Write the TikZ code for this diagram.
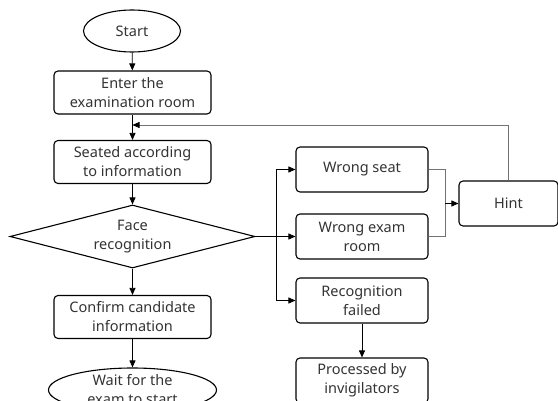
\documentclass[tikz,border=0pt]{standalone}
\usepackage{fontspec}
\setmainfont{Noto Sans}
\usetikzlibrary{shapes.geometric,arrows.meta}
\begin{document}
\begin{tikzpicture}[x=1pt,y=-1pt,
  every node/.style={font=\fontsize{14.5}{19}\selectfont, text=black!80},
  box/.style={draw, rounded corners=4pt, minimum width=157pt, minimum height=43pt, align=center, inner sep=0pt, line width=1.1pt},
  sbox/.style={box, minimum width=132pt, minimum height=45pt},
  oval/.style={draw, ellipse, align=center, inner sep=0pt, line width=1.1pt},
  dia/.style={draw, diamond, aspect=4, align=center, inner sep=0pt, line width=1.1pt, minimum width=245pt, minimum height=63pt},
  arr/.style={-{Triangle[length=7pt,width=6pt]}, line width=0.8pt},
  gline/.style={line width=0.7pt, draw=black!55},
  garr/.style={gline, -{Triangle[length=7pt,width=6pt,color=black]}},
]
\useasboundingbox (0,0) rectangle (558,401);
\clip (0,0) rectangle (558,401);
\node[oval, minimum width=97pt, minimum height=42pt] (start) at (132,31) {Start};
\node[box] (enter) at (132.5,92.5) {Enter the\\examination room};
\node[box] (seated) at (132.5,162) {Seated according\\to information};
\node[dia] (face) at (132.5,236.5) {Face\\recognition};
\node[box] (confirm) at (132.5,317) {Confirm candidate\\information};
\node[oval, minimum width=168pt, minimum height=44pt] (wait) at (132.5,390) {Wait for the\\exam to start};
\node[sbox] (seat) at (362,169.5) {Wrong seat};
\node[sbox] (room) at (362,236.5) {Wrong exam\\room};
\node[sbox] (failed) at (362,300.5) {Recognition\\failed};
\node[sbox] (proc) at (362,380.5) {Processed by\\invigilators};
\node[box, minimum width=99pt, minimum height=45pt] (hint) at (508.5,203.5) {Hint};
\coordinate (br) at (276,236.5);
\coordinate (mg) at (445,203.5);
\coordinate (fb) at (132.5,125);
\draw[arr] (start) -- (enter);
\draw[arr] (enter) -- (seated);
\draw[arr] (seated) -- (face);
\draw[arr] (face) -- (confirm);
\draw[arr] (confirm) -- (wait);
\draw[arr] (face) -- (room);
\draw[arr] (br) |- (seat);
\draw[arr] (br) |- (failed);
\draw[arr] (failed) -- (proc);
\draw[gline] (seat.east) -| (mg);
\draw[gline] (room.east) -| (mg);
\draw[arr] (mg) -- (hint);
\draw[garr] (hint.north) |- (fb);
\end{tikzpicture}
\end{document}
